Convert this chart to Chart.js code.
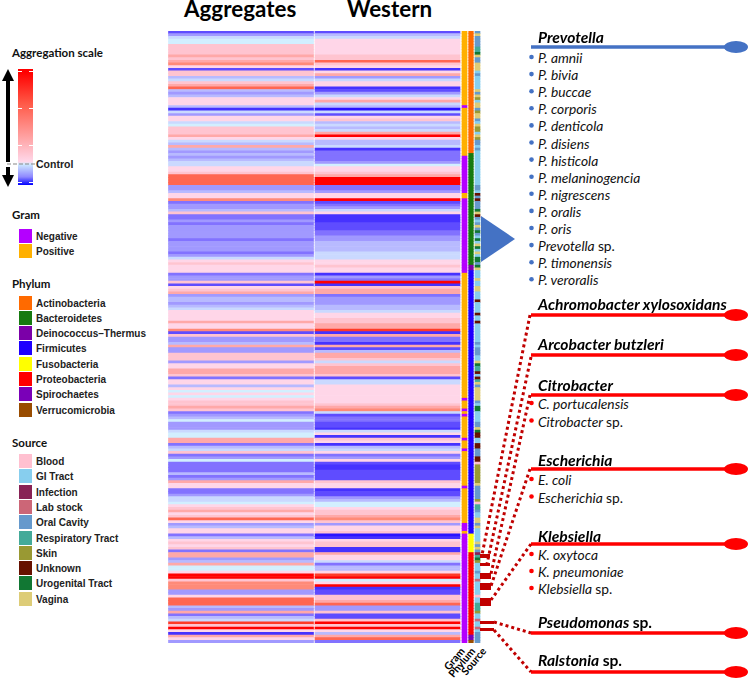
<!DOCTYPE html>
<html>
<head>
<meta charset="utf-8">
<script src="https://cdn.jsdelivr.net/npm/chart.js@4/dist/chart.umd.min.js"></script>
<style>
  html, body { margin:0; padding:0; background:#fff; }
  #page { position:relative; width:748px; height:681px; overflow:hidden; font-family:Lato, sans-serif; color:#000; }
  #heat { position:absolute; left:168px; top:31px; }
  #marks { position:absolute; left:0; top:0; z-index:1; }
  .t { position:absolute; white-space:nowrap; line-height:1; transform:translateY(-50%); }
  .col { font-size:22.4px; font-weight:700; }
  .head { font-size:11.5px; font-weight:700; color:#111; }
  .item { font:700 10px "Liberation Sans", sans-serif; color:#222; }
  .swatch { position:absolute; width:13px; height:14px; }
  .genus { font-size:15.6px; font-weight:700; font-style:italic; z-index:2; }
  .genus span { font-style:normal; }
  .sp { font-size:13.8px; font-style:italic; color:#111; }
  .sp span { font-style:normal; }
  .track { position:absolute; font-size:10.5px; font-weight:700; line-height:1; white-space:nowrap; transform-origin:100% 50%; transform:translateY(-50%) rotate(-50deg); }
  #bar { position:absolute; left:18px; top:69px; width:15px; height:116px;
    background:linear-gradient(#ff0000 0%, #ff0000 3%, #ff5a48 30%, #ffa0a0 58%, #ffd8ea 80%, #cfeaff 82%, #8f88ff 93%, #0000ff 100%); }
  .tick { position:absolute; left:18px; width:15px; height:1px; background:linear-gradient(90deg,#fff 0 4px,transparent 4px 11px,#fff 11px); }
</style>
</head>
<body>
<div id="page">
  <canvas id="heat" width="313" height="612"></canvas>
  <svg id="marks" width="748" height="681"></svg>
  <div id="bar"></div>
</div>
<script>
const COLUMN_TITLES = ['Aggregates', 'Western'];

// heat levels per row, top to bottom, -7 deep blue .. 0 control .. 7 red
const aggregates = [
  -5,-3,-1,0,0,2,2,2,2,3,
  2,3,4,1,-5,2,2,-2,-1,2,
  3,5,-2,-3,-2,1,1,1,-2,-6,
  -1,-3,1,1,-1,0,2,2,2,3,
  1,-1,-2,3,-2,-3,-2,-3,-2,-1,
  -1,1,1,2,5,5,5,5,-3,-3,
  -2,1,1,4,-4,-3,-3,-2,2,-4,
  -4,-3,-4,-3,-3,-3,-3,-3,-4,-3,
  -3,-3,-3,-4,-3,-1,1,2,1,1,
  1,-4,-3,-3,2,-5,1,2,3,-3,
  -2,-2,-3,-2,-1,1,1,1,1,3,
  1,1,4,-5,2,-3,-3,-2,3,-3,
  -3,2,2,2,-3,1,1,3,3,2,
  -4,1,1,-2,1,0,1,0,1,2,
  2,3,2,-4,-3,-2,0,-3,-3,-3,
  -1,0,0,3,3,-4,-2,-1,2,-4,
  -3,0,-4,-4,-4,-4,-2,-4,-3,3,
  1,1,-4,-4,-3,-1,-1,0,1,2,
  3,1,2,5,1,-3,-2,1,1,-4,
  -2,1,2,1,2,-4,3,3,-3,-2,
  3,0,0,1,7,7,2,4,4,4,
  -3,-3,1,5,5,5,-2,-3,3,-4,
  -2,-1,6,2,7,1,-6,3,1,-3
];
const western = [
  -5,-2,-1,1,1,1,1,1,1,2,
  2,5,2,1,-6,1,3,-3,-1,1,
  1,-6,-5,-3,-1,1,3,-1,-2,-7,
  -1,-5,1,2,-2,-1,-2,-1,3,7,
  1,-2,-2,-1,-6,-4,-4,-4,-4,-3,
  0,1,1,2,3,7,7,7,-4,-4,
  -3,1,1,7,-5,-4,-3,-1,1,-6,
  -6,-6,-5,-5,-5,-4,-4,-3,-3,-2,
  -2,-2,-2,-1,-1,-1,1,1,2,1,
  1,-6,-3,-4,7,-6,2,3,3,-4,
  -3,-3,-3,-2,-2,-1,1,1,2,2,
  3,3,6,-6,3,-4,-4,-6,3,-5,
  -2,3,3,2,-1,2,3,3,3,2,
  -5,-1,-1,1,1,1,1,1,1,1,
  2,3,4,-1,-5,-4,-4,-5,-5,-6,
  -1,1,-6,2,1,-6,-2,-1,1,-4,
  -3,1,-5,-6,-6,-5,-5,-5,-5,2,
  1,1,-6,-5,-5,-3,-2,0,0,1,
  2,2,3,4,2,-3,1,1,2,-7,
  -6,1,2,2,-6,-6,3,1,1,-1,
  -4,-2,-2,1,6,7,0,1,7,-6,
  -5,-5,2,2,3,5,-3,-3,2,-5,
  -5,2,7,2,7,1,-2,3,5,-4
];

// [name, number of rows] going down the column
const gramRuns = [['Positive',28],['Negative',1],['Positive',18],['Negative',14],['Positive',2],['Negative',28],
  ['Positive',47],['Negative',1],['Positive',3],['Negative',1],['Positive',1],['Negative',1],['Positive',8],['Negative',1],
  ['Positive',3],['Negative',1],['Positive',13],['Negative',1],['Positive',13],['Negative',3],['Positive',1],['Negative',41]];
const phylumRuns = [['Actinobacteria',46],['Bacteroidetes',42],['Deinococcus–Thermus',2],['Firmicutes',99],
  ['Fusobacteria',7],['Proteobacteria',31],['Spirochaetes',2],['Verrucomicrobia',1]];

// one letter per row, keyed by sourceCodes
const sourceRows = (
  'OVOOOORRTV' + 'OOVVVGOGGG' + 'GGVOVSGVVO' + 'SVVOGVSSGV' + 'SOOGOGGGGG' + 'GGGGGGGGOO' +
  'GUOUOOOTVU' + 'OGOVOTOGTG' + 'VTGVGTTOTV' + 'GGGVGGVVGG' + 'GUGGGGUGGU' + 'GGGGGGGOGO' +
  'OOGGVTRRUG' + 'URVOVVVVVO' + 'GTTGGGGOOV' + 'TUUGGUUOOO' + 'UUBSSSSSSS' + 'VOOOOOSBRR' +
  'OGGVVOVGGG' + 'GGVOVOIRTS' + 'GGGOGGLGGG' + 'GGBGGRRRSG' + 'GLGGLGOOOO'
).split('');
const sourceCodes = { B:'Blood', G:'GI Tract', I:'Infection', L:'Lab stock', O:'Oral Cavity',
  R:'Respiratory Tract', S:'Skin', U:'Unknown', T:'Urogenital Tract', V:'Vagina' };

const heatColors = { '-7':'#2a14ff','-6':'#4632ff','-5':'#5f4cff','-4':'#8272ff','-3':'#a199ff','-2':'#b8baff','-1':'#cad9ff',
  '0':'#d2efff','1':'#ffd6e8','2':'#ffc4d0','3':'#ffa8a8','4':'#ff8a78','5':'#ff6652','6':'#ff3a28','7':'#ff0000' };
const gramColors = { Negative:'#b400ff', Positive:'#ffb000' };
const phylumColors = { 'Actinobacteria':'#ff6a00','Bacteroidetes':'#167a10','Deinococcus–Thermus':'#7b00a8','Firmicutes':'#1e00ff',
  'Fusobacteria':'#ffff00','Proteobacteria':'#ff0000','Spirochaetes':'#7a00b8','Verrucomicrobia':'#994c00' };
const sourceColors = { 'Blood':'#ffc0d0','GI Tract':'#87ceee','Infection':'#882255','Lab stock':'#cc6677','Oral Cavity':'#6699cc',
  'Respiratory Tract':'#44aa99','Skin':'#999933','Unknown':'#661100','Urogenital Tract':'#117733','Vagina':'#ddcc77' };

const expand = runs => runs.flatMap(([name, n]) => Array(n).fill(name));
const rowLabels = aggregates.map((_, i) => 'row' + (i + 1));
const gramRows = expand(gramRuns);
const phylumRows = expand(phylumRuns);
const sourceNames = sourceRows.map(c => sourceCodes[c]);

// ── Heatmap ───────────────────────────────────────────────────────────────────
function track(label, span, colors){
  return { label, data: rowLabels.map(() => span), backgroundColor: colors, borderWidth:0,
    barPercentage:1, categoryPercentage:1, grouped:false };
}

new Chart(document.getElementById('heat').getContext('2d'), {
  type:'bar',
  data:{ labels:rowLabels, datasets:[
    track('Aggregates', [168.5,313.5], aggregates.map(v => heatColors[v])),
    track('Western', [315,460], western.map(v => heatColors[v])),
    track('Gram', [462,467], gramRows.map(n => gramColors[n])),
    track('Phylum', [468.7,473.3], phylumRows.map(n => phylumColors[n])),
    track('Source', [475,480], sourceNames.map(n => sourceColors[n]))
  ]},
  options:{
    indexAxis:'y', responsive:false, animation:false,
    layout:{ padding:0 },
    plugins:{ legend:{ display:false }, tooltip:{ enabled:false } },
    scales:{
      x:{ display:false, type:'linear', min:168, max:481 },
      y:{ display:false, type:'category', offset:true, grid:{ display:false } }
    }
  }
});

// ── Text helpers ──────────────────────────────────────────────────────────────
const page = document.getElementById('page');
function addText(cls, x, y, html){
  const el = document.createElement('div');
  el.className = 't ' + cls;
  el.style.left = x + 'px';
  el.style.top = y + 'px';
  el.innerHTML = html;
  page.appendChild(el);
  return el;
}
function addSwatch(y, color){
  const el = document.createElement('div');
  el.className = 'swatch';
  el.style.left = '19px';
  el.style.top = (y - 7) + 'px';
  el.style.background = color;
  page.appendChild(el);
}
function legendBlock(title, titleY, colors, firstY){
  addText('head', 12, titleY, title);
  Object.keys(colors).forEach((name, i) => {
    const y = firstY + i * 15.3;
    addSwatch(y, colors[name]);
    addText('item', 36, y, name);
  });
}

addText('col', 184, 9, COLUMN_TITLES[0]);
addText('col', 347, 9, COLUMN_TITLES[1]);

addText('head', 12, 53, 'Aggregation scale');
addText('item', 36, 164, 'Control').style.fontSize = '10.5px';
[71, 108, 145, 182].forEach(y => {
  const el = document.createElement('div');
  el.className = 'tick';
  el.style.top = y + 'px';
  page.appendChild(el);
});
legendBlock('Gram', 215, gramColors, 236);
legendBlock('Phylum', 284, phylumColors, 302.5);
legendBlock('Source', 443, sourceColors, 461);

// track names, anchored at their top right end
[['Gram',463,649],['Phylum',473,649],['Source',484,649]].forEach(([name, x, y]) => {
  const el = document.createElement('div');
  el.className = 'track';
  el.textContent = name;
  el.style.right = (748 - x) + 'px';
  el.style.top = y + 'px';
  page.appendChild(el);
});

// ── Genus call-outs ───────────────────────────────────────────────────────────
const BLUE = '#4472c4', RED = '#ff0000', DARK = '#c00000';
const prevotellaSpecies = ['P. amnii','P. bivia','P. buccae','P. corporis','P. denticola','P. disiens',
  'P. histicola','P. melaninogencia','P. nigrescens','P. oralis','P. oris','Prevotella <span>sp.</span>',
  'P. timonensis','P. veroralis'];
const callouts = [
  { name:'Prevotella', titleY:38, lineY:47, color:BLUE, species:prevotellaSpecies, firstY:58, pitch:17.1 },
  { name:'Achromobacter xylosoxidans', titleY:305, lineY:315, color:RED, species:[] },
  { name:'Arcobacter butzleri', titleY:345, lineY:355, color:RED, species:[] },
  { name:'Citrobacter', titleY:386, lineY:395, color:RED, species:['C. portucalensis','Citrobacter <span>sp.</span>'], firstY:404, pitch:17.5 },
  { name:'Escherichia', titleY:461, lineY:469, color:RED, species:['E. coli','Escherichia <span>sp.</span>'], firstY:480, pitch:17.5 },
  { name:'Klebsiella', titleY:537, lineY:544, color:RED, species:['K. oxytoca','K. pneumoniae','Klebsiella <span>sp.</span>'], firstY:555, pitch:17 },
  { name:'Pseudomonas <span>sp.</span>', titleY:623, lineY:633, color:RED, species:[] },
  { name:'Ralstonia <span>sp.</span>', titleY:661, lineY:672, color:RED, species:[] }
];

const SVG_NS = 'http://www.w3.org/2000/svg';
const svg = document.getElementById('marks');
function shape(tag, attrs){
  const el = document.createElementNS(SVG_NS, tag);
  Object.keys(attrs).forEach(k => el.setAttribute(k, attrs[k]));
  svg.appendChild(el);
}

callouts.forEach(c => {
  addText('genus', 538, c.titleY, c.name);
  shape('line', { x1:531, y1:c.lineY, x2:732, y2:c.lineY, stroke:c.color, 'stroke-width':3.5 });
  shape('ellipse', { cx:736, cy:c.lineY, rx:12, ry:6, fill:c.color });
  c.species.forEach((s, i) => {
    const y = c.firstY + i * c.pitch;
    addText('sp', 538, y, s);
    shape('circle', { cx:531.5, cy:y - 1, r:2.3, fill:c.color });
  });
});

// big pointer from the Prevotella rows
shape('polygon', { points:'481,216 515,239 481,262', fill:BLUE });

// dark red row markers beside the source column and their dotted leaders
[[554,4,10],[563,3,10],[573,6,11],[583,7,11],[598,8,11],[621,3,14],[628,3,14]].forEach(([y, h, w]) => {
  shape('rect', { x:480, y, width:w, height:h, fill:DARK });
});
[[530,315,482,555],[531,357,487,564],[530,395,491,574],[530,469,491,586],[531,544,491,600],[494,622,531,633],[494,630,531,672]].forEach(([x1, y1, x2, y2]) => {
  shape('line', { x1, y1, x2, y2, stroke:DARK, 'stroke-width':3, 'stroke-dasharray':'3 3' });
});

// scale arrows and control line
shape('line', { x1:8, y1:80, x2:8, y2:162, stroke:'#000', 'stroke-width':4 });
shape('polygon', { points:'8,69 2,81 14,81', fill:'#000' });
shape('line', { x1:8, y1:167, x2:8, y2:176, stroke:'#000', 'stroke-width':4 });
shape('polygon', { points:'8,187 2,175 14,175', fill:'#000' });
shape('line', { x1:7, y1:164, x2:35, y2:164, stroke:'#888', 'stroke-width':1.2, 'stroke-dasharray':'4 2' });
</script>
</body>
</html>
